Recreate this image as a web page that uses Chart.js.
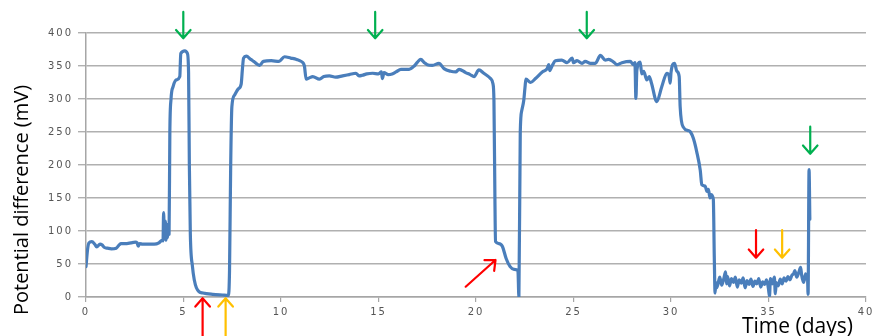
<!DOCTYPE html>
<html>
<head>
<meta charset="utf-8">
<script src="https://cdn.jsdelivr.net/npm/chart.js@4"></script>
<style>
  html, body { margin: 0; padding: 0; background: #ffffff; }
  #wrap { width: 883px; height: 336px; position: relative; }
</style>
</head>
<body>
<div id="wrap"><canvas id="c"></canvas></div>
<script>
// Time since start of the experiment (days)
const days = [
  0, 0.08, 0.15, 0.3, 0.45, 0.55, 0.72, 0.82, 0.95, 1.1, 1.3, 1.55, 1.7, 1.8, 2.1, 2.3, 2.53, 2.62, 2.68, 2.75,
  2.9, 3.2, 3.5, 3.74, 3.9, 3.95, 3.98, 4.02, 4.07, 4.1, 4.14, 4.18, 4.22, 4.26, 4.3, 4.36, 4.47, 4.64, 4.81, 4.86,
  5.07, 5.2, 5.26, 5.3, 5.35, 5.46, 5.56, 5.66, 5.8, 6.0, 6.5, 7.0, 7.3, 7.36, 7.42, 7.48, 7.62, 7.8, 7.96, 8.02,
  8.08, 8.22, 8.45, 8.6, 8.9, 9.1, 9.5, 9.9, 10.18, 10.5, 10.8, 11.03, 11.2, 11.29, 11.45, 11.63, 11.97, 12.2, 12.48, 12.8,
  13.16, 13.5, 13.84, 14.0, 14.18, 14.4, 14.7, 15.0, 15.15, 15.2, 15.28, 15.5, 15.7, 15.9, 16.15, 16.4, 16.57, 16.83, 17.0, 17.17,
  17.35, 17.5, 17.76, 18.1, 18.36, 18.7, 18.96, 19.13, 19.47, 19.7, 19.9, 20.15, 20.4, 20.75, 20.87, 20.92, 20.97, 21.0, 21.17, 21.35,
  21.55, 21.75, 21.95, 22.15, 22.2, 22.27, 22.35, 22.45, 22.52, 22.56, 22.8, 23.05, 23.4, 23.65, 23.73, 23.78, 23.9, 24.07, 24.4, 24.67,
  24.93, 25.0, 25.18, 25.44, 25.6, 25.87, 26.12, 26.38, 26.63, 26.8, 27.06, 27.23, 27.48, 27.91, 28.08, 28.15, 28.2, 28.25, 28.42, 28.5,
  28.6, 28.76, 28.88, 29.0, 29.27, 29.53, 29.79, 29.9, 29.96, 30.0, 30.18, 30.3, 30.42, 30.47, 30.64, 30.9, 31.0, 31.15, 31.32, 31.5,
  31.58, 31.75, 31.85, 31.92, 32.0, 32.05, 32.17, 32.22, 32.26, 32.3, 32.35, 32.45, 32.5, 32.6, 32.7, 32.8, 32.85, 32.9, 33.0, 33.1,
  33.2, 33.3, 33.4, 33.5, 33.6, 33.7, 33.8, 33.9, 34.0, 34.1, 34.2, 34.3, 34.4, 34.5, 34.6, 34.7, 34.8, 34.9, 35.0, 35.05,
  35.1, 35.2, 35.3, 35.35, 35.4, 35.5, 35.6, 35.7, 35.8, 35.9, 36.0, 36.1, 36.2, 36.3, 36.35, 36.45, 36.55, 36.65, 36.7, 36.8,
  36.9, 36.95, 37.0, 37.03, 37.08, 37.12
];

// Measured potential difference (mV)
const potential = [
  46, 72, 82, 84, 80, 76, 80, 79, 75, 74, 73, 74, 79, 81, 81, 82, 83, 82, 77, 81,
  80, 80, 80, 82, 86, 85, 128, 88, 115, 86, 110, 90, 105, 95, 250, 300, 319, 329, 334, 369,
  373, 369, 340, 200, 96, 46, 25, 14, 8, 6, 4, 3, 2.5, 40, 200, 288, 306, 315, 323, 345,
  362, 365, 360, 357, 351, 357, 358, 357, 364, 362, 360, 357, 350, 330, 332, 334, 330, 334, 335, 333,
  335, 337, 339, 335, 336, 338, 339, 338, 341, 331, 340, 337, 338, 341, 345, 345, 345, 350, 356, 360,
  355, 352, 351, 354, 346, 342, 341, 345, 340, 337, 334, 344, 339, 331, 323, 298, 150, 84, 81, 77,
  58, 46, 42, 40, 0, 250, 283, 298, 320, 330, 325, 331, 341, 346, 352, 343, 350, 358, 359, 355,
  362, 355, 358, 354, 357, 354, 354, 366, 359, 360, 356, 352, 355, 357, 352, 355, 301, 344, 356, 338,
  342, 329, 334, 324, 296, 319, 339, 335, 324, 340, 354, 342, 334, 288, 257, 252, 250, 240, 220, 192,
  170, 168, 160, 163, 150, 155, 148, 60, 6, 22, 14, 25, 30, 18, 27, 38, 20, 31, 17, 28,
  22, 30, 15, 26, 21, 29, 14, 25, 19, 27, 16, 24, 20, 28, 15, 23, 19, 26, 12, 1,
  28, 20, 30, 5, 22, 17, 27, 20, 29, 24, 31, 26, 33, 36, 40, 30, 37, 45, 33, 22,
  35, 27, 30, 4, 193, 118
];

// Axis ranges and tick steps
const xTicks = [0, 5, 10, 15, 20, 25, 30, 35, 40];
const yTicks = [0, 50, 100, 150, 200, 250, 300, 350, 400];

// Event markers: [fromDay, fromMv, toDay, toMv, colour]
const GREEN = '#00b050', RED = '#ff0000', AMBER = '#ffc000';
const markers = [
  [4.99, 432, 4.99, 392, GREEN],
  [14.83, 432, 14.83, 392, GREEN],
  [25.68, 432, 25.68, 392, GREEN],
  [37.14, 258, 37.14, 217, GREEN],
  [5.98, -62, 5.98, -2, RED],
  [7.16, -62, 7.16, -2, AMBER],
  [19.47, 15.6, 21.0, 56, RED],
  [34.36, 101.5, 34.36, 59.5, RED],
  [35.7, 101.5, 35.7, 59.5, AMBER]
];

const points = days.map((d, i) => ({ x: d, y: potential[i] }));

function arrow(ctx, x1, y1, x2, y2, color) {
  const ang = Math.atan2(y2 - y1, x2 - x1);
  const head = 11, spread = 0.72;
  ctx.save();
  ctx.strokeStyle = color;
  ctx.lineWidth = 2.2;
  ctx.lineCap = 'round';
  ctx.lineJoin = 'round';
  ctx.beginPath();
  ctx.moveTo(x1, y1);
  ctx.lineTo(x2, y2);
  ctx.moveTo(x2 - head * Math.cos(ang - spread), y2 - head * Math.sin(ang - spread));
  ctx.lineTo(x2, y2);
  ctx.lineTo(x2 - head * Math.cos(ang + spread), y2 - head * Math.sin(ang + spread));
  ctx.stroke();
  ctx.restore();
}

const decorations = {
  id: 'decorations',
  beforeDraw(chart) {
    // wide-set tick digits
    chart.ctx.letterSpacing = '2px';
  },
  afterDraw(chart) {
    const ctx = chart.ctx;
    ctx.letterSpacing = '0px';
    const xs = chart.scales.x, ys = chart.scales.y;
    markers.forEach(m => {
      arrow(ctx, xs.getPixelForValue(m[0]), ys.getPixelForValue(m[1]),
                 xs.getPixelForValue(m[2]), ys.getPixelForValue(m[3]), m[4]);
    });
    ctx.save();
    ctx.fillStyle = '#000000';
    ctx.font = '20px "Open Sans"';
    ctx.textAlign = 'center';
    ctx.textBaseline = 'middle';
    ctx.translate(22, 200);
    ctx.rotate(-Math.PI / 2);
    ctx.fillText('Potential difference (mV)', 0, 0);
    ctx.restore();
    ctx.save();
    ctx.fillStyle = '#000000';
    ctx.font = '21px "Open Sans"';
    ctx.textAlign = 'left';
    ctx.textBaseline = 'alphabetic';
    ctx.fillText('Time (days)', 742, 333);
    ctx.restore();
  }
};

new Chart(document.getElementById('c'), {
  type: 'line',
  data: {
    datasets: [{
      data: points,
      borderColor: '#4a7ebb',
      borderWidth: 3.2,
      pointRadius: 0,
      fill: false,
      cubicInterpolationMode: 'monotone',
      borderJoinStyle: 'round',
      borderCapStyle: 'round'
    }]
  },
  options: {
    responsive: true,
    maintainAspectRatio: false,
    animation: false,
    layout: { padding: { left: 0, top: 33, right: 17, bottom: 0 } },
    plugins: { legend: { display: false }, tooltip: { enabled: false } },
    scales: {
      x: {
        type: 'linear',
        min: xTicks[0],
        max: xTicks[xTicks.length - 1],
        afterBuildTicks: s => { s.ticks = xTicks.map(v => ({ value: v })); },
        afterFit: s => { s.height = 39; },
        grid: { drawOnChartArea: false, drawTicks: true, tickLength: 5, color: '#a6a6a6', lineWidth: 1.2 },
        border: { display: true, color: '#a6a6a6', width: 1.5 },
        ticks: { color: '#555555', font: { family: 'DejaVu Sans', size: 10 }, padding: 4, maxRotation: 0 }
      },
      y: {
        min: yTicks[0],
        max: yTicks[yTicks.length - 1],
        afterBuildTicks: s => { s.ticks = yTicks.map(v => ({ value: v })); },
        afterFit: s => { s.width = 86; },
        grid: { color: '#b0b0b0', lineWidth: 1.4, tickLength: 8 },
        border: { display: true, color: '#a6a6a6', width: 1.5 },
        ticks: { color: '#555555', font: { family: 'DejaVu Sans', size: 10 }, padding: 5 }
      }
    }
  },
  plugins: [decorations]
});
</script>
</body>
</html>
